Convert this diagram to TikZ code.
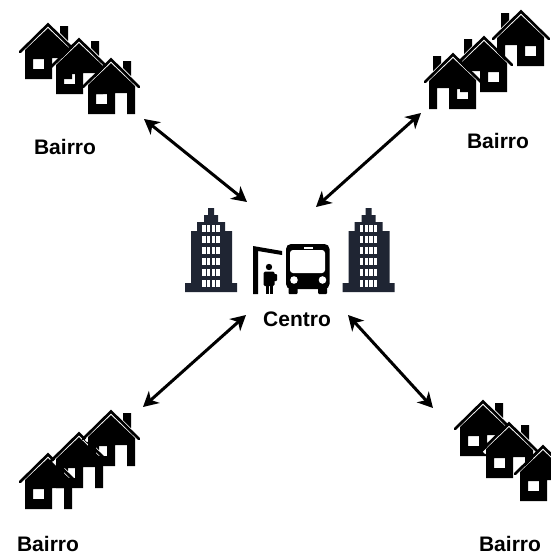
\documentclass[tikz,border=0pt]{standalone}
\usepackage{fontspec}
\setmainfont{Liberation Sans}
\usetikzlibrary{arrows.meta}
\definecolor{tower}{HTML}{1F2533}
\tikzset{
  link/.style={line width=3pt,black,{Stealth[length=15pt,width=16pt,inset=4.5pt]}-{Stealth[length=15pt,width=16pt,inset=4.5pt]}},
  label/.style={font=\fontsize{21}{24}\selectfont\bfseries,text=black,inner sep=0pt},
  roofline/.style={line width=2.7pt,line cap=round,miter limit=10},
}
\newcommand{\houseicon}[3]{%
  \begin{scope}[shift={(#1,#2)},xscale=#3]
    \draw[white,line width=3.2pt] (-25,31)--(0,6)--(25,31);
    \fill[black,even odd rule] (-23,27)--(0,5.2)--(24,28)--(24,56)--(16,56)--(16,35)--(4,35)--(4,56)--(-23,56)--cycle
       (-15,36) rectangle (-4,46);
    \fill[black] (12,3) -- (20,3) -- (20,18) -- (12,10) -- cycle;
    \draw[black,roofline] (-28,29)--(0,1.5)--(28,29);
  \end{scope}}
\newcommand{\towericon}[1]{%
  \begin{scope}[shift={(#1,0)}]
    \fill[tower] (185,292)--(185,283)--(191,283)--(191,231)--(197,231)--(197,222)--(204,222)--(204,215)--(208,215)--(208,208)--(214,208)--(214,215)--(218,215)--(218,222)--(225,222)--(225,231)--(232,231)--(232,283)--(237,283)--(237,292)--cycle;
    \foreach \yy in {225,236,247,258,269,280}{
      \foreach \xx in {202.3,207,211.6,216.2}{
        \fill[white] (\xx,\yy) rectangle ++(3.4,7.3);
      }
    }
  \end{scope}}
\begin{document}
\begin{tikzpicture}[x=1pt,y=-1pt]
\path[use as bounding box,clip] (0,0) rectangle (551,554);
\fill[white] (0,0) rectangle (551,554);
% top-left houses
\houseicon{48}{23}{1}
\houseicon{79}{38}{1}
\houseicon{111}{58}{1}
% top-right houses
\houseicon{521}{10}{-1}
\houseicon{484}{36}{-1}
\houseicon{453}{53}{-1}
% bottom-left houses
\houseicon{48}{453}{1}
\houseicon{79}{432}{1}
\houseicon{111}{410}{1}
% bottom-right houses
\houseicon{483}{400}{1}
\houseicon{509}{422}{1}
\houseicon{543}{445}{1}
% towers
\towericon{0}
\towericon{157.7}
% shelter
\fill[black] (253,246)--(282,251)--(282,255)--(258,251)--(258,294)--(253,294)--cycle;
% person
\fill[black] (269,267) circle (3.2);
\fill[black,rounded corners=1.5pt] (263.5,271.5) rectangle (274.5,286);
\fill[black] (265.5,285) rectangle (268.7,294);
\fill[black] (269.5,285) rectangle (272.7,294);
\fill[black,rounded corners=1pt] (273,274) rectangle (277,281);
% bus
\fill[black,rounded corners=5pt] (286,289)--(286,244)--(329.5,244)--(329.5,289)--cycle;
\fill[black,rounded corners=1pt] (288.5,286) rectangle (297.5,294);
\fill[black,rounded corners=1pt] (318,286) rectangle (327,294);
\fill[white,rounded corners=3pt] (290,250) rectangle (325,273);
\fill[white] (303.5,246.5) rectangle (313,249);
\fill[white] (294,280) circle (3.8);
\fill[white] (322.5,280) circle (3.8);
% labels
\node[label] (b1) at (65,147) {Bairro};
\node[label] (b2) at (498,141) {Bairro};
\node[label] (b3) at (48,543.5) {Bairro};
\node[label] (b4) at (510,543.5) {Bairro};
\node[label] (c) at (297,319) {Centro};
% connectors
\coordinate (tl) at (144,119);
\coordinate (tlc) at (247,202);
\coordinate (tr) at (421,113);
\coordinate (trc) at (316,207);
\coordinate (bl) at (143,407);
\coordinate (blc) at (246,315);
\coordinate (br) at (433,408);
\coordinate (brc) at (348,315);
\draw[link] (tl) -- (tlc);
\draw[link] (tr) -- (trc);
\draw[link] (bl) -- (blc);
\draw[link] (br) -- (brc);
\end{tikzpicture}
\end{document}
